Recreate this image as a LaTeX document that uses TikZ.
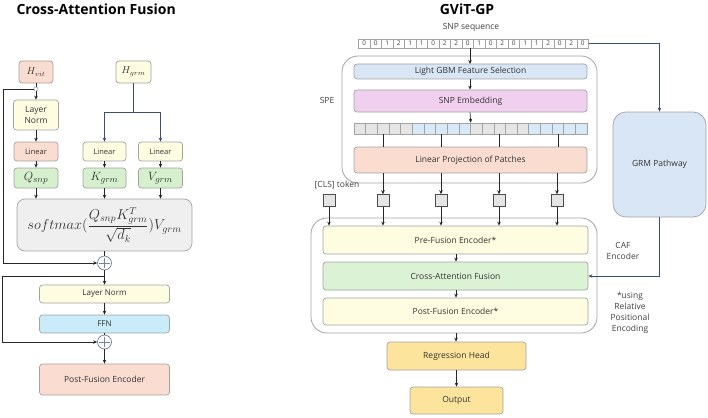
\documentclass[tikz,border=0pt]{standalone}
\usepackage{fontspec}
\setmainfont{Open Sans}
\usetikzlibrary{arrows.meta,calc}
\definecolor{bd}{HTML}{A3A3A3}
\definecolor{navy}{HTML}{3B4E6E}
\definecolor{salmon}{HTML}{FADCD0}
\definecolor{ylw}{HTML}{FEFCE1}
\definecolor{grn}{HTML}{D6F0CE}
\definecolor{gry}{HTML}{EFEFEF}
\definecolor{cyn}{HTML}{C9EBFA}
\definecolor{lblue}{HTML}{D8E6F5}
\definecolor{pink}{HTML}{F1D0EF}
\definecolor{gold}{HTML}{FDE49C}
\definecolor{cellg}{HTML}{E5E5E5}
\definecolor{cellb}{HTML}{D9E8F7}
\tikzset{
  bx/.style={draw=bd,line width=0.7pt,rounded corners=3pt,inner sep=0pt,align=center,text=black!80},
  arr/.style={-{Stealth[length=4pt,width=3.5pt]},line width=0.7pt,black!85},
  ln/.style={line width=0.7pt,black!85},
  narr/.style={-{Stealth[length=4pt,width=3.5pt]},line width=0.7pt,navy},
  nln/.style={line width=0.7pt,navy},
  cell/.style={draw=bd,line width=0.5pt,inner sep=0pt,minimum height=9pt,minimum width=11.5pt,font=\fontsize{6.5}{6.5}\selectfont,text=black!75},
  pcell/.style={draw=bd,line width=0.5pt,inner sep=0pt,minimum height=11pt,minimum width=11.65pt},
  plus/.style={draw=navy!80,line width=0.6pt,circle,minimum size=14pt,inner sep=0pt,fill=white},
  outer/.style={draw=bd,line width=0.8pt,rounded corners=16pt},
  lab/.style={font=\fontsize{8.5}{11}\selectfont,text=black!75,align=center},
  rt/.style={font=\fontsize{8.5}{8.5}\selectfont},
}
\begin{document}
\begin{tikzpicture}[x=1pt,y=-1pt]
\useasboundingbox (0,0) rectangle (708,417);
% ---------- LEFT ----------
\node[font=\bfseries\fontsize{14}{14}\selectfont,anchor=west] (t1) at (13,9) {Cross-Attention Fusion};
\node[bx,fill=salmon,minimum width=34pt,minimum height=22pt,font=\fontsize{10}{10}\selectfont] (hvit) at (36,72) {$H_{vit}$};
\node[bx,fill=ylw,minimum width=35pt,minimum height=22pt,font=\fontsize{10}{10}\selectfont] (hgrm) at (133.5,72) {$H_{grm}$};
\node[bx,fill=ylw,minimum width=45pt,minimum height=30pt,font=\fontsize{8.5}{10.5}\selectfont] (ln1) at (36,115) {Layer\\Norm};
\node[bx,fill=salmon,minimum width=44pt,minimum height=19pt,font=\fontsize{7.5}{7.5}\selectfont] (lin1) at (36,151.5) {Linear};
\node[bx,fill=ylw,minimum width=43pt,minimum height=19pt,font=\fontsize{7.5}{7.5}\selectfont] (lin2) at (104.5,151.5) {Linear};
\node[bx,fill=ylw,minimum width=44pt,minimum height=19pt,font=\fontsize{7.5}{7.5}\selectfont] (lin3) at (160.5,151.5) {Linear};
\node[bx,fill=grn,minimum width=44pt,minimum height=20pt,font=\fontsize{13}{13}\selectfont] (q) at (36,178) {$Q_{snp}$};
\node[bx,fill=grn,minimum width=43pt,minimum height=20pt,font=\fontsize{13}{13}\selectfont] (k) at (104.5,178) {$K_{grm}$};
\node[bx,fill=grn,minimum width=44pt,minimum height=20pt,font=\fontsize{13}{13}\selectfont] (v) at (160.5,178) {$V_{grm}$};
\node[bx,fill=gry,minimum width=175pt,minimum height=52pt,rounded corners=8pt,font=\fontsize{14}{14}\selectfont] (sm) at (104.5,225) {$\displaystyle softmax(\frac{Q_{snp}K_{grm}^{T}}{\sqrt{d_k}})V_{grm}$};
\node[plus] (p1) at (104.5,263) {};
\draw[navy!70,line width=0.5pt] ($(p1.north)+(0,2)$) -- ($(p1.south)+(0,-2)$) ($(p1.west)+(2,0)$) -- ($(p1.east)+(-2,0)$);
\node[bx,fill=ylw,minimum width=130pt,minimum height=18pt,font=\fontsize{8}{8}\selectfont] (ln2) at (104.5,294) {Layer Norm};
\node[bx,fill=cyn,minimum width=130pt,minimum height=18pt,font=\fontsize{8}{8}\selectfont] (ffn) at (104.5,324) {FFN};
\node[plus] (p2) at (104.5,342) {};
\draw[navy!70,line width=0.5pt] ($(p2.north)+(0,2)$) -- ($(p2.south)+(0,-2)$) ($(p2.west)+(2,0)$) -- ($(p2.east)+(-2,0)$);
\node[bx,fill=salmon,minimum width=130pt,minimum height=31pt,font=\fontsize{8.5}{8.5}\selectfont] (post) at (104.5,379.5) {Post-Fusion Encoder};
\coordinate (j1) at (36,89);
\coordinate (j2) at (104.5,276);
\draw[arr] (hvit) -- (ln1);
\draw[ln] (j1) -- (3,89) -- (3,263) coordinate (c1);
\draw[arr] (c1) -- (p1.west);
\node[circle,draw=bd,fill=white,line width=0.5pt,minimum size=4pt,inner sep=0pt] (jd) at (j1) {};
\draw[arr] (ln1) -- (lin1);
\draw[arr] (lin1) -- (q);
\draw[arr] (q) -- (q|-sm.north);
\draw[nln] (hgrm) -- (133.5,112) coordinate (hb);
\draw[nln] (lin2|-hb) -- (lin3|-hb);
\draw[narr] (lin2|-hb) -- (lin2);
\draw[narr] (lin3|-hb) -- (lin3);
\draw[arr] (lin2) -- (k);
\draw[arr] (lin3) -- (v);
\draw[arr] (k) -- (sm);
\draw[arr] (v) -- (v|-sm.north);
\draw[ln] (sm) -- (p1);
\draw[arr] (p1) -- (ln2);
\draw[ln] (j2) -- (2,276) -- (2,342) coordinate (c2);
\draw[arr] (c2) -- (p2.west);
\draw[arr] (ln2) -- (ffn);
\draw[ln] (ffn) -- (p2);
\draw[arr] (p2) -- (post);
% ---------- RIGHT ----------
\node[font=\bfseries\fontsize{14}{14}\selectfont] (t2) at (467,9) {GViT-GP};
\node[lab] (seql) at (471,27) {SNP sequence};
\foreach \d [count=\i from 0] in {0,0,1,2,1,1,0,2,2,0,1,0,2,0,1,1,2,0,2,0}{
  \node[cell] (s\i) at (364.25+\i*11.5,43.5) {\d};
}
\node[outer,minimum width=255pt,minimum height=127pt,inner sep=0pt] (spe) at (469.5,119.5) {};
\node[lab] (spel) at (327,100) {SPE};
\node[bx,fill=lblue,minimum width=233pt,minimum height=15pt,rt] (gbm) at (470.5,71.5) {Light GBM Feature Selection};
\node[bx,fill=pink,minimum width=233pt,minimum height=22pt,rt] (emb) at (470.5,101) {SNP Embedding};
\foreach \i in {0,...,19}{
  \pgfmathtruncatemacro{\grp}{mod(floor(\i/5),2)}
  \ifnum\grp=0 \def\cc{cellg}\else\def\cc{cellb}\fi
  \node[pcell,fill=\cc] (pc\i) at (359.8+\i*11.65,128.5) {};
}
\node[bx,fill=salmon,minimum width=233pt,minimum height=26pt,rt] (proj) at (470.5,160) {Linear Projection of Patches};
\node[lab] (clsl) at (337,185) {[CLS] token};
\foreach \n/\x in {0/329,1/383,2/441,3/499,4/557}{
  \node[draw=black!70,fill=cellg,line width=0.5pt,minimum size=12pt,inner sep=0pt] (tk\n) at (\x,200.5) {};
}
\node[outer,minimum width=286pt,minimum height=115pt,inner sep=0pt] (cafo) at (454,275.5) {};
\node[bx,fill=ylw,minimum width=265pt,minimum height=28pt,rt] (pre) at (455.5,240) {Pre-Fusion Encoder*};
\node[bx,fill=grn!85,minimum width=265pt,minimum height=28pt,rt] (caf) at (455.5,276) {Cross-Attention Fusion};
\node[bx,fill=ylw,minimum width=265pt,minimum height=27pt,rt] (pst) at (455.5,311.5) {Post-Fusion Encoder*};
\node[lab] (cafl) at (623,250.5) {CAF\\Encoder};
\node[lab] (note) at (630,313) {*using\\Relative\\Positional\\Encoding};
\node[bx,fill=lblue,minimum width=93pt,minimum height=105pt,rounded corners=13pt,rt] (grm) at (659.5,164.5) {GRM Pathway};
\node[bx,fill=gold,minimum width=139pt,minimum height=28pt,rt] (reg) at (456.5,356) {Regression Head};
\node[bx,fill=gold,minimum width=93pt,minimum height=27pt,rt] (out) at (456.5,400.5) {Output};
% connectors right
\coordinate (sa) at (470,48);
\draw[arr] (sa) -- (470,64);
\draw[arr] (gbm.south-|470,0) -- (emb.north-|470,0);
\draw[arr] (emb.south-|470,0) -- (pc9.north east);
\foreach \i in {2,7,12,17}{ \draw[ln] (pc\i) -- (pc\i|-proj.north); }
\foreach \n in {1,2,3,4}{ \draw[arr] (tk\n|-proj.south) -- (tk\n); }
\foreach \n in {0,...,4}{ \draw[arr] (tk\n) -- (tk\n|-pre.north); }
\draw[arr] (pre.south-|456,0) -- (caf.north-|456,0);
\draw[arr] (caf.south-|456,0) -- (pst.north-|456,0);
\draw[arr] (cafo.south-|456,0) -- (reg.north-|456,0);
\draw[arr] (reg) -- (out);
\draw[narr] (s19.east) -- (659.5,43.5) -- (grm.north);
\draw[narr] (grm.south) -- (659.5,276) -- (caf.east);
\end{tikzpicture}
\end{document}
